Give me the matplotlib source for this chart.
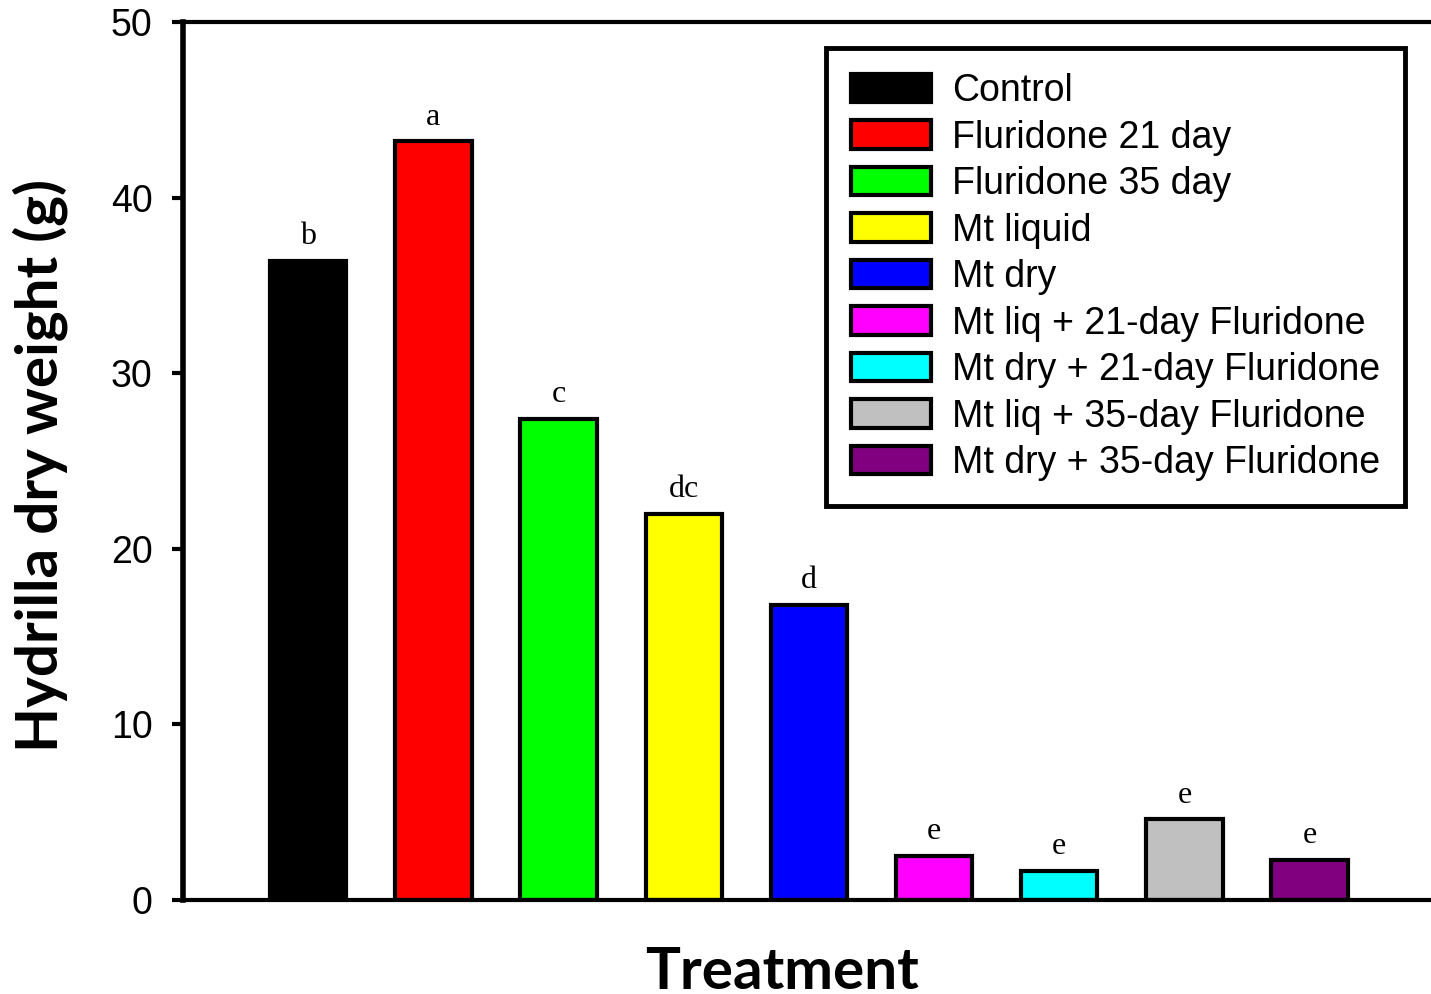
import matplotlib.pyplot as plt

# data
treatments = ['Control', 'Fluridone 21 day', 'Fluridone 35 day', 'Mt liquid', 'Mt dry',
              'Mt liq + 21-day Fluridone', 'Mt dry + 21-day Fluridone',
              'Mt liq + 35-day Fluridone', 'Mt dry + 35-day Fluridone']
dry_weight = [36.4, 43.2, 27.4, 22.0, 16.8, 2.5, 1.65, 4.6, 2.3]
letters = ['b', 'a', 'c', 'dc', 'd', 'e', 'e', 'e', 'e']
colors = ['#000000', '#ff0000', '#00ff00', '#ffff00', '#0000ff',
          '#ff00ff', '#00ffff', '#c0c0c0', '#800080']

fig = plt.figure(figsize=(14.31, 9.94), dpi=100)
ax = fig.add_axes([183 / 1431, 1 - 900 / 994, 1 - 183 / 1431, (900 - 22) / 994])

x = list(range(len(treatments)))
bars = ax.bar(x, dry_weight, width=0.61, color=colors, edgecolor='black',
              linewidth=3, label=treatments)

for xi, h, lab in zip(x, dry_weight, letters):
    ax.annotate(lab, (xi, h), xytext=(0, 7), textcoords='offset points',
                ha='center', va='bottom', fontsize=23, family='Liberation Serif')

ax.set_xlim(-1, 8.97)
ax.set_ylim(0, 50)
ax.set_yticks([0, 10, 20, 30, 40, 50])
ax.set_xticks([])

ax.spines['left'].set_linewidth(4)
ax.spines['top'].set_linewidth(3)
ax.spines['bottom'].set_linewidth(3)
ax.spines['right'].set_visible(False)
ax.tick_params(axis='y', direction='out', length=8, width=3, pad=14,
               labelsize=27, labelfontfamily='Liberation Sans')

fig.text(40 / 1431, 1 - 465 / 994, 'Hydrilla dry weight (g)', rotation=90,
         ha='center', va='center', fontsize=42, fontweight='bold', family='Lato')
fig.text(782 / 1431, 5 / 994, 'Treatment', ha='center', va='baseline',
         fontsize=42, fontweight='bold', family='Lato')

handles = [plt.Rectangle((0, 0), 1, 1, facecolor=c, edgecolor='black', linewidth=3)
           for c in colors]
leg = ax.legend(handles, treatments, loc='upper left',
                bbox_to_anchor=(826 / 1431, 1 - 48 / 994), bbox_transform=fig.transFigure,
                fancybox=False, edgecolor='black', framealpha=1,
                prop={'family': 'Liberation Sans', 'size': 27},
                handlelength=2.13, handleheight=0.8, labelspacing=0.28,
                handletextpad=0.56, borderpad=0.67, borderaxespad=0)
leg.get_frame().set_linewidth(3.5)

fig.savefig('out.png', dpi=100)
